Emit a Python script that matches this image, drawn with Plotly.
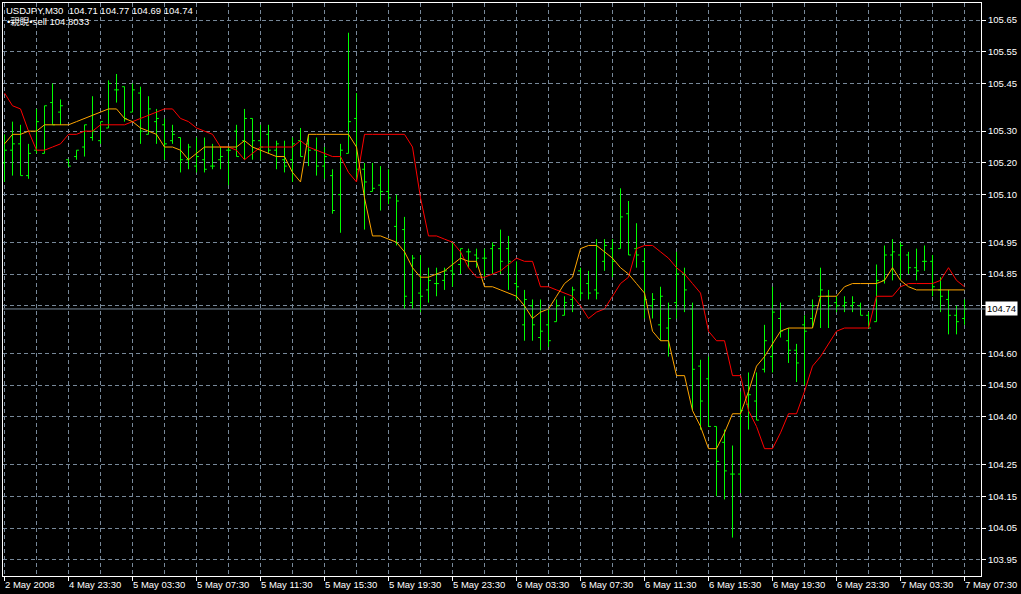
import plotly.graph_objects as go

# ---------------- data (USDJPY, M30) ----------------
bar_index = list(range(121))

open_ = [105.20,105.24,105.26,105.16,105.24,105.23,105.39,105.36,105.21,105.22,
         105.25,105.28,105.27,105.31,105.43,105.44,105.36,105.42,105.29,105.33,
         105.32,105.27,105.28,105.21,105.19,105.21,105.19,105.21,105.24,105.30,
         105.27,105.34,105.27,105.29,105.24,105.21,105.21,105.27,105.26,105.24,
         105.19,105.16,105.10,105.23,105.34,105.18,105.11,105.13,105.11,105.00,
         104.99,104.76,104.79,104.80,104.82,104.83,104.86,104.88,104.92,104.91,
         104.90,104.93,104.93,104.93,104.82,104.69,104.75,104.65,104.69,104.70,
         104.72,104.77,104.86,104.82,104.80,104.89,104.93,104.93,105.04,104.93,
         104.89,104.75,104.69,104.68,104.76,104.85,104.74,104.56,104.52,104.37,
         104.32,104.22,104.22,104.44,104.45,104.55,104.59,104.71,104.64,104.61,
         104.69,104.71,104.78,104.78,104.76,104.75,104.75,104.75,104.72,104.70,
         104.83,104.91,104.91,104.91,104.87,104.89,104.89,104.80,104.77,104.72,
         104.71]

high = [105.29,105.33,105.32,105.26,105.37,105.38,105.45,105.40,105.21,105.24,
        105.32,105.41,105.33,105.46,105.48,105.44,105.45,105.44,105.41,105.37,
        105.34,105.32,105.28,105.26,105.28,105.28,105.26,105.25,105.25,105.32,
        105.37,105.34,105.32,105.32,105.27,105.27,105.28,105.31,105.29,105.28,
        105.25,105.18,105.26,105.61,105.42,105.20,105.20,105.19,105.18,105.10,
        105.03,104.91,104.91,104.87,104.87,104.87,104.95,104.93,104.93,104.93,
        104.93,104.95,104.99,104.97,104.89,104.80,104.77,104.77,104.74,104.77,
        104.78,104.81,104.87,104.86,104.96,104.96,104.96,105.12,105.08,105.01,
        104.93,104.79,104.81,104.76,104.92,104.87,104.76,104.58,104.59,104.37,
        104.36,104.31,104.48,104.54,104.54,104.69,104.81,104.76,104.68,104.63,
        104.72,104.77,104.87,104.80,104.78,104.78,104.78,104.76,104.73,104.88,
        104.94,104.96,104.95,104.92,104.93,104.94,104.91,104.84,104.80,104.75,
        104.77]

low = [105.14,105.16,105.16,105.15,105.23,105.23,105.32,105.32,105.19,105.21,
       105.22,105.27,105.26,105.31,105.39,105.33,105.36,105.26,105.29,105.26,
       105.21,105.26,105.17,105.18,105.17,105.17,105.18,105.18,105.13,105.22,
       105.21,105.21,105.21,105.23,105.18,105.17,105.14,105.22,105.19,105.16,
       105.15,105.04,104.98,105.23,105.15,104.99,105.11,105.05,105.07,104.94,
       104.74,104.74,104.73,104.76,104.78,104.80,104.81,104.85,104.87,104.87,
       104.84,104.85,104.85,104.80,104.77,104.64,104.64,104.61,104.62,104.70,
       104.72,104.73,104.77,104.77,104.77,104.86,104.84,104.93,104.91,104.87,
       104.71,104.71,104.64,104.59,104.71,104.73,104.42,104.36,104.37,104.15,
       104.14,104.02,104.16,104.36,104.39,104.54,104.54,104.65,104.57,104.51,
       104.50,104.68,104.68,104.68,104.73,104.73,104.73,104.72,104.68,104.70,
       104.82,104.83,104.83,104.85,104.83,104.86,104.78,104.73,104.66,104.66,
       104.69]

close = [105.24,105.26,105.16,105.23,105.33,105.38,105.32,105.38,105.19,105.24,
         105.32,105.30,105.33,105.45,105.43,105.34,105.43,105.30,105.37,105.34,
         105.26,105.29,105.21,105.25,105.22,105.18,105.19,105.22,105.24,105.22,
         105.34,105.27,105.25,105.24,105.26,105.19,105.26,105.22,105.24,105.19,
         105.22,105.05,105.24,105.33,105.18,105.14,105.12,105.11,105.09,105.08,
         104.78,104.90,104.78,104.83,104.82,104.86,104.85,104.93,104.92,104.90,
         104.90,104.94,104.89,104.89,104.81,104.77,104.69,104.67,104.64,104.75,
         104.76,104.80,104.79,104.79,104.79,104.94,104.89,105.03,104.91,104.91,
         104.77,104.77,104.78,104.71,104.85,104.80,104.55,104.45,104.37,104.26,
         104.23,104.22,104.42,104.47,104.39,104.64,104.73,104.67,104.61,104.57,
         104.67,104.75,104.80,104.75,104.75,104.76,104.76,104.72,104.68,104.83,
         104.91,104.92,104.94,104.87,104.86,104.89,104.81,104.78,104.72,104.70,
         104.74]

orange_line = [105.26,105.29,105.29,105.30,105.30,105.32,105.32,105.32,105.32,105.33,
               105.34,105.35,105.36,105.37,105.37,105.34,105.33,105.31,105.30,105.29,
               105.25,105.25,105.24,105.21,105.23,105.25,105.25,105.25,105.25,105.25,
               105.27,105.25,105.24,105.23,105.22,105.22,105.17,105.14,105.29,105.29,
               105.29,105.29,105.29,105.29,105.25,105.09,104.97,104.97,104.96,104.95,
               104.92,104.87,104.84,104.84,104.85,104.86,104.88,104.90,104.89,104.89,
               104.81,104.81,104.80,104.79,104.78,104.75,104.71,104.73,104.74,104.78,
               104.82,104.84,104.93,104.94,104.94,104.92,104.90,104.87,104.85,104.82,
               104.79,104.67,104.64,104.64,104.53,104.53,104.42,104.37,104.30,104.30,
               104.35,104.41,104.41,104.48,104.56,104.59,104.63,104.67,104.68,104.68,
               104.68,104.68,104.78,104.78,104.78,104.81,104.82,104.82,104.82,104.82,
               104.83,104.87,104.83,104.81,104.80,104.80,104.80,104.80,104.80,104.80,
               104.80]

red_line = [105.42,105.38,105.37,105.30,105.24,105.24,105.25,
            105.26,105.29,105.29,105.30,105.30,105.32,105.32,105.32,105.32,105.33,
            105.34,105.35,105.36,105.37,105.37,105.34,105.33,105.31,105.30,105.29,
            105.25,105.25,105.24,105.21,105.23,105.25,105.25,105.25,105.25,105.25,
            105.27,105.25,105.24,105.23,105.22,105.22,105.17,105.14,105.29,105.29,
            105.29,105.29,105.29,105.29,105.25,105.09,104.97,104.97,104.96,104.95,
            104.92,104.87,104.84,104.84,104.85,104.86,104.88,104.90,104.89,104.89,
            104.81,104.81,104.80,104.79,104.78,104.75,104.71,104.73,104.74,104.78,
            104.82,104.84,104.93,104.94,104.94,104.92,104.90,104.87,104.85,104.82,
            104.79,104.67,104.64,104.64,104.53,104.53,104.42,104.37,104.30,104.30,
            104.35,104.41,104.41,104.48,104.56,104.59,104.63,104.67,104.68,104.68,
            104.68,104.68,104.78,104.78,104.78,104.81,104.82,104.82,104.82,104.82,
            104.83,104.87,104.83,104.81]

y_ticks = [103.95, 104.05, 104.15, 104.25, 104.40, 104.50, 104.60, 104.75,
           104.85, 104.95, 105.10, 105.20, 105.30, 105.45, 105.55, 105.65]
y_tick_text = ["103.95", "104.05", "104.15", "104.25", "104.40", "104.50", "104.60", "",
               "104.85", "104.95", "105.10", "105.20", "105.30", "105.45", "105.55", "105.65"]

x_label_index = [0, 8, 16, 24, 32, 40, 48, 56, 64, 72, 80, 88, 96, 104, 112, 120]
x_label_text = ["2 May 2008", "4 May 23:30", "5 May 03:30", "5 May 07:30", "5 May 11:30",
                "5 May 15:30", "5 May 19:30", "5 May 23:30", "6 May 03:30", "6 May 07:30",
                "6 May 11:30", "6 May 15:30", "6 May 19:30", "6 May 23:30", "7 May 03:30",
                "7 May 07:30"]

header_line1 = "USDJPY,M30\u00a0\u00a0104.71 104.77 104.69 104.74"
header_line2 = "\u2022親睨\u2022sell 104.8033"
last_price = 104.74

# ---------------- styling ----------------
FONT = "Liberation Sans, Arial, Noto Sans CJK JP, sans-serif"
GRID = "#778899"
BAR_GREEN = "#00ff00"

fig = go.Figure()

fig.add_trace(go.Ohlc(
    x=bar_index, open=open_, high=high, low=low, close=close,
    increasing=dict(line=dict(color=BAR_GREEN, width=1)),
    decreasing=dict(line=dict(color=BAR_GREEN, width=1)),
    tickwidth=0.3, showlegend=False, hoverinfo="skip",
))
fig.add_trace(go.Scatter(
    x=bar_index, y=red_line, mode="lines",
    line=dict(color="#ff0000", width=1), showlegend=False, hoverinfo="skip",
))
fig.add_trace(go.Scatter(
    x=bar_index, y=orange_line, mode="lines",
    line=dict(color="#ffa500", width=1), showlegend=False, hoverinfo="skip",
))

W, H = 1021, 594
ML, MR, MT, MB = 3, 40, 3, 18
plot_w = W - ML - MR
x0 = -0.1875
x1 = x0 + plot_w / 8.0

fig.update_layout(
    width=W, height=H,
    margin=dict(l=ML, r=MR, t=MT, b=MB, pad=0),
    paper_bgcolor="#000000", plot_bgcolor="#000000",
    font=dict(family=FONT, size=9.5, color="#ffffff"),
    showlegend=False,
    xaxis=dict(
        range=[x0, x1], showline=True, mirror=True, linecolor="#ffffff", linewidth=1,
        tickmode="linear", tick0=0, dtick=8, ticks="outside", ticklen=4,
        tickcolor="#ffffff", showticklabels=False,
        showgrid=True, gridcolor=GRID, griddash="4px,3px", gridwidth=1,
        minor=dict(tick0=0, dtick=4, showgrid=True, gridcolor=GRID,
                   griddash="4px,3px", ticks=""),
        zeroline=False, rangeslider=dict(visible=False), fixedrange=True,
    ),
    yaxis=dict(
        range=[103.899, 105.7036], side="right", showline=True, mirror=True,
        linecolor="#ffffff", linewidth=1,
        tickmode="array", tickvals=y_ticks, ticktext=y_tick_text,
        ticks="outside", ticklen=4, tickcolor="#ffffff",
        tickfont=dict(family=FONT, size=9.5, color="#ffffff"),
        showgrid=True, gridcolor=GRID, griddash="4px,3px", gridwidth=1,
        zeroline=False, fixedrange=True,
    ),
)

# bid line
fig.add_shape(type="line", xref="paper", yref="y", x0=0, x1=1.0045,
              y0=last_price, y1=last_price, line=dict(color=GRID, width=1), layer="above")

annotations = []
for xi, txt in zip(x_label_index, x_label_text):
    annotations.append(dict(
        x=xi, xref="x", y=0, yref="paper", text=txt, showarrow=False,
        xanchor="left", yanchor="top", xshift=-2, yshift=-1,
        font=dict(family=FONT, size=9.5, color="#ffffff"),
    ))
annotations.append(dict(
    x=1, xref="paper", y=last_price, yref="y", text=f"{last_price:.2f}", showarrow=False,
    xanchor="left", yanchor="middle", xshift=4, bgcolor="#ffffff", borderpad=1,
    font=dict(family=FONT, size=9.5, color="#000000"),
))
annotations.append(dict(
    x=0, xref="paper", y=1, yref="paper", text=header_line1, showarrow=False,
    xanchor="left", yanchor="top", xshift=1, yshift=0,
    font=dict(family=FONT, size=9.5, color="#ffffff"),
))
annotations.append(dict(
    x=0, xref="paper", y=1, yref="paper", text=header_line2, showarrow=False,
    xanchor="left", yanchor="top", xshift=2, yshift=-11,
    font=dict(family=FONT, size=9.5, color="#ffffff"),
))
fig.update_layout(annotations=annotations)

fig.write_html(
    "out.html",
    config={"displayModeBar": False, "staticPlot": True},
    post_script="document.body.style.margin='0px';document.body.style.background='#000';",
)
